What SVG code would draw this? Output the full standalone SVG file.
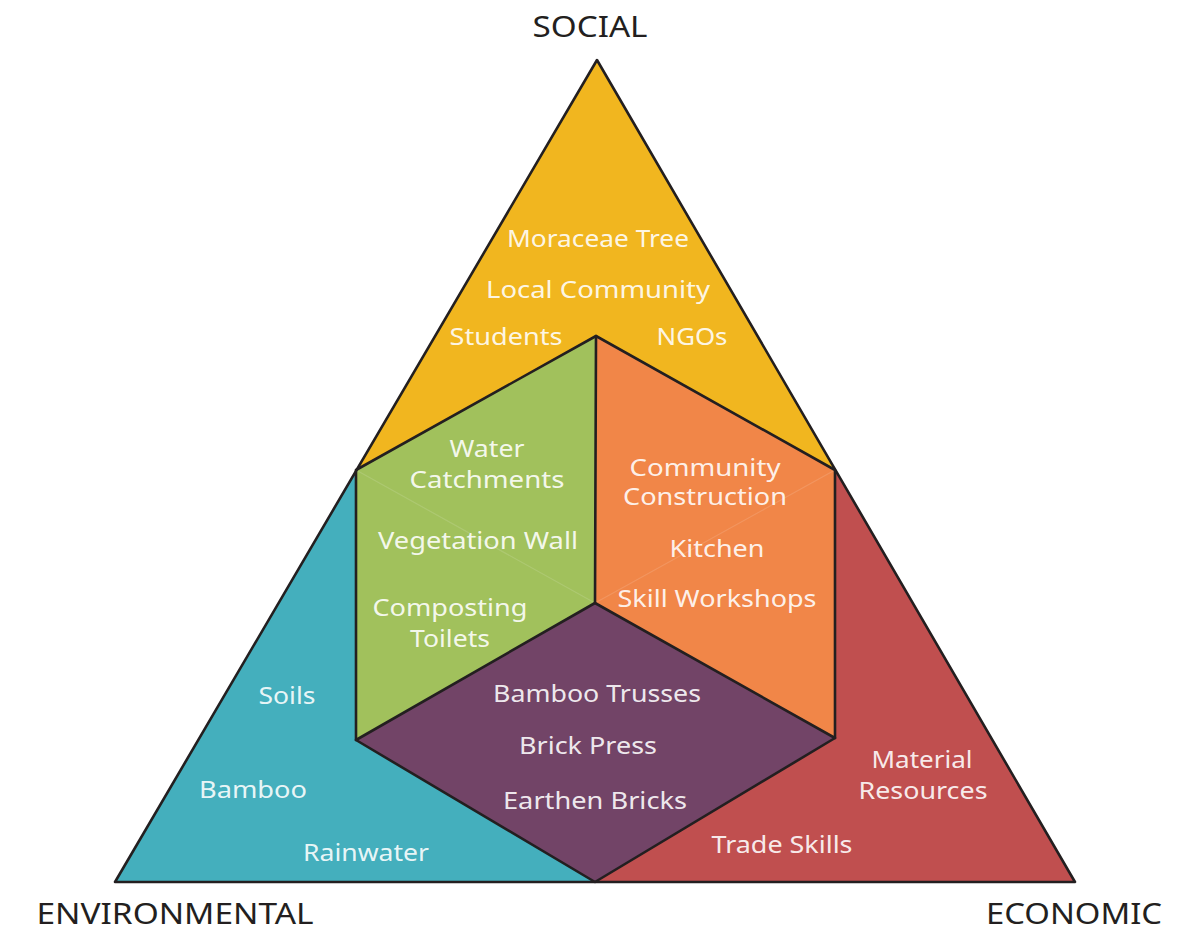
<svg xmlns="http://www.w3.org/2000/svg" width="1200" height="938" viewBox="0 0 1200 938">
<style>
.edge{fill:none;stroke:#231F20;stroke-width:2.6;stroke-linejoin:round;stroke-linecap:round}
.faint{fill:none;stroke:#ffffff;stroke-opacity:0.13;stroke-width:1.2}
.lbl{font-family:"Noto Sans","Open Sans",sans-serif;font-size:23px;fill:#FFFFFF;fill-opacity:0.9;text-anchor:middle}
.ttl{font-family:"Noto Sans","Open Sans",sans-serif;font-size:29px;fill:#231F20;text-anchor:middle}
</style>
<rect width="1200" height="938" fill="#FFFFFF"/>
<g id="social">
<polygon points="597,60 835,470 596,336 356,470" fill="#F1B61F"/>
<text class="lbl" x="598" y="247" textLength="182" lengthAdjust="spacingAndGlyphs">Moraceae Tree</text>
<text class="lbl" x="598" y="298" textLength="224" lengthAdjust="spacingAndGlyphs">Local Community</text>
<text class="lbl" x="506" y="345" textLength="113" lengthAdjust="spacingAndGlyphs">Students</text>
<text class="lbl" x="692" y="345" textLength="71" lengthAdjust="spacingAndGlyphs">NGOs</text>
</g>
<g id="environmental">
<polygon points="356,470 356,740 595,882 115,882" fill="#44AFBD"/>
<text class="lbl" x="287" y="704" textLength="57" lengthAdjust="spacingAndGlyphs">Soils</text>
<text class="lbl" x="253" y="798" textLength="108" lengthAdjust="spacingAndGlyphs">Bamboo</text>
<text class="lbl" x="366" y="861" textLength="126" lengthAdjust="spacingAndGlyphs">Rainwater</text>
</g>
<g id="economic">
<polygon points="835,470 1075,882 595,882 835,738" fill="#C04F4F"/>
<text class="lbl" x="922" y="768" textLength="101" lengthAdjust="spacingAndGlyphs">Material</text>
<text class="lbl" x="923" y="799" textLength="129" lengthAdjust="spacingAndGlyphs">Resources</text>
<text class="lbl" x="782" y="853" textLength="141" lengthAdjust="spacingAndGlyphs">Trade Skills</text>
</g>
<g id="social-environmental">
<polygon points="356,470 596,336 595,603 356,740" fill="#A1C15C"/>
<line class="faint" x1="356" y1="470" x2="595" y2="603"/>
<text class="lbl" x="487" y="457" textLength="75" lengthAdjust="spacingAndGlyphs">Water</text>
<text class="lbl" x="487" y="488" textLength="155" lengthAdjust="spacingAndGlyphs">Catchments</text>
<text class="lbl" x="478" y="549" textLength="200" lengthAdjust="spacingAndGlyphs">Vegetation Wall</text>
<text class="lbl" x="450" y="616" textLength="155" lengthAdjust="spacingAndGlyphs">Composting</text>
<text class="lbl" x="450" y="647" textLength="80" lengthAdjust="spacingAndGlyphs">Toilets</text>
</g>
<g id="social-economic">
<polygon points="596,336 835,470 835,738 595,603" fill="#F18648"/>
<line class="faint" x1="835" y1="470" x2="595" y2="603"/>
<text class="lbl" x="705" y="476" textLength="151" lengthAdjust="spacingAndGlyphs">Community</text>
<text class="lbl" x="705" y="505" textLength="164" lengthAdjust="spacingAndGlyphs">Construction</text>
<text class="lbl" x="717" y="557" textLength="95" lengthAdjust="spacingAndGlyphs">Kitchen</text>
<text class="lbl" x="717" y="607" textLength="199" lengthAdjust="spacingAndGlyphs">Skill Workshops</text>
</g>
<g id="environmental-economic">
<polygon points="595,603 835,738 595,882 356,740" fill="#724467"/>
<text class="lbl" x="597" y="702" textLength="208" lengthAdjust="spacingAndGlyphs">Bamboo Trusses</text>
<text class="lbl" x="588" y="754" textLength="138" lengthAdjust="spacingAndGlyphs">Brick Press</text>
<text class="lbl" x="595" y="809" textLength="184" lengthAdjust="spacingAndGlyphs">Earthen Bricks</text>
</g>
<g id="connectors">
<polygon class="edge" points="597,60 1075,882 115,882"/>
<polyline class="edge" points="356,470 596,336 835,470 835,738 595,882 356,740 356,470"/>
<polyline class="edge" points="596,336 595,603"/>
<polyline class="edge" points="356,740 595,603 835,738"/>
</g>
<g id="titles">
<text class="ttl" x="590" y="37" textLength="115" lengthAdjust="spacingAndGlyphs">SOCIAL</text>
<text class="ttl" x="175" y="924" textLength="277" lengthAdjust="spacingAndGlyphs">ENVIRONMENTAL</text>
<text class="ttl" x="1074" y="924" textLength="176" lengthAdjust="spacingAndGlyphs">ECONOMIC</text>
</g>
</svg>
